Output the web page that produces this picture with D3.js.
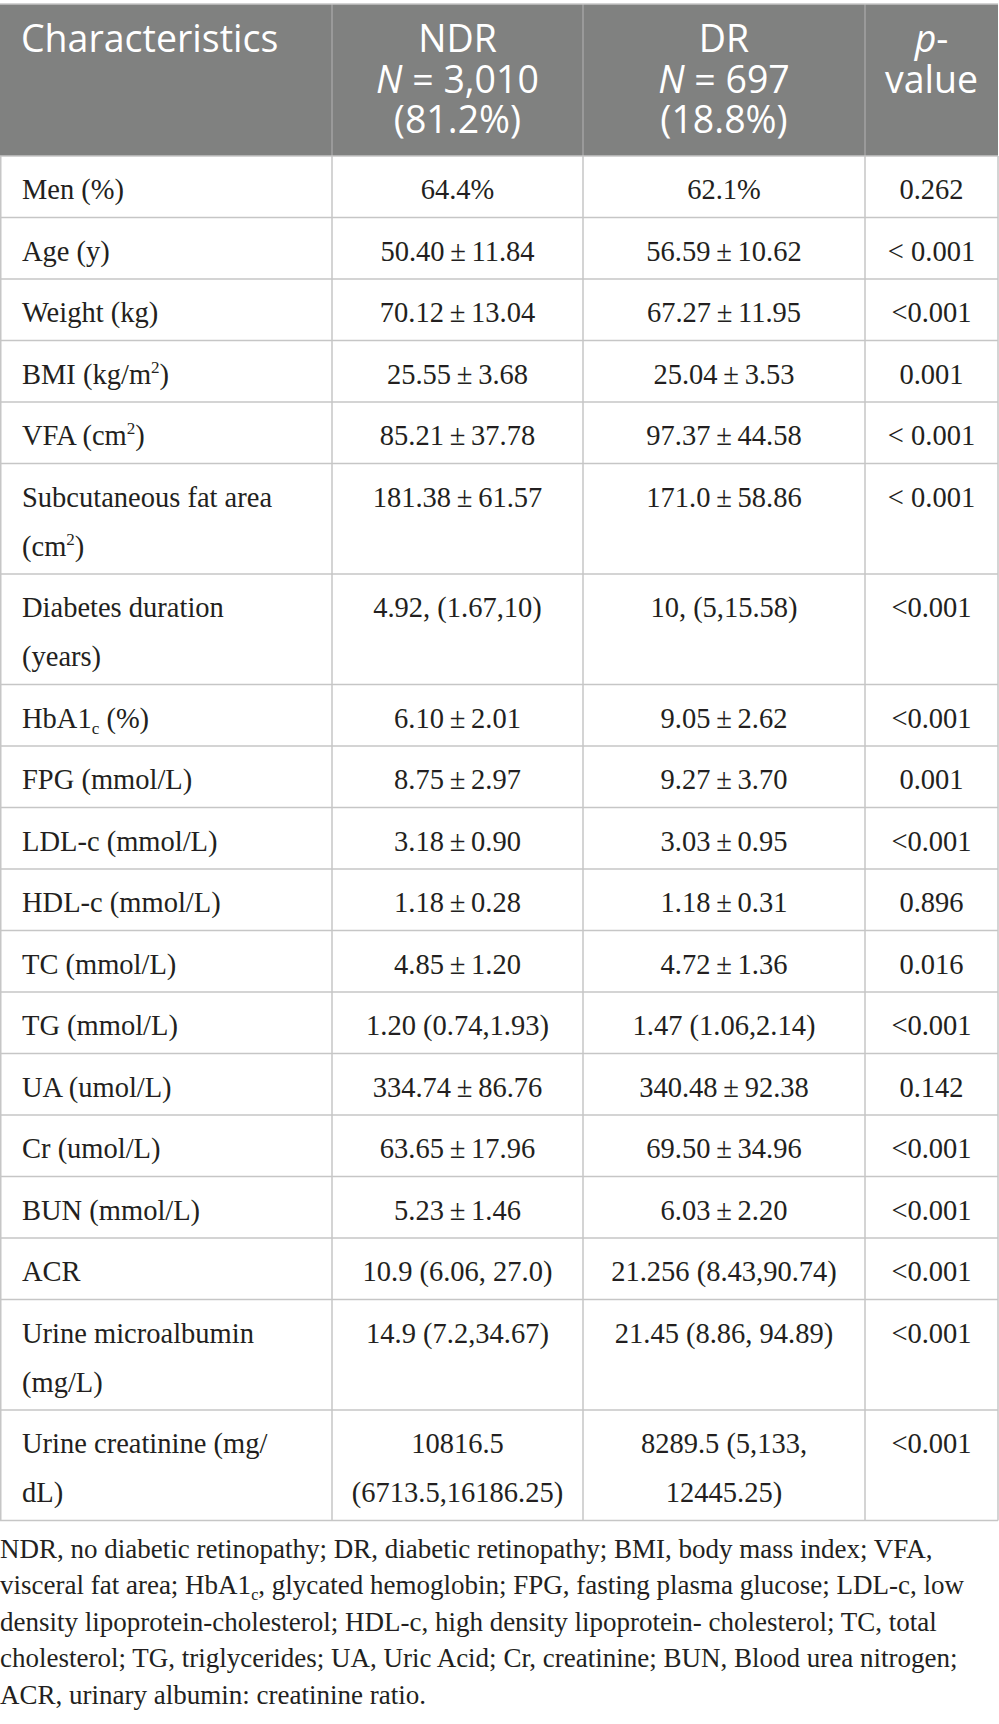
<!DOCTYPE html>
<html>
<head>
<meta charset="utf-8">
<script src="https://cdn.jsdelivr.net/npm/d3@7"></script>
<style>
  html, body { margin: 0; padding: 0; background: #fff; }
  svg { display: block; }
</style>
</head>
<body>
<div id="chart"></div>
<script>
// ---------- data ----------
const headerCharacteristics = ["Characteristics"];
const headerNDR = ["NDR", "*N* = 3,010", "(81.2%)"];
const headerDR = ["DR", "*N* = 697", "(18.8%)"];
const headerP = ["*p*-", "value"];

const characteristics = [
  "Men (%)", "Age (y)", "Weight (kg)", "BMI (kg/m^2)", "VFA (cm^2)",
  "Subcutaneous fat area\n(cm^2)", "Diabetes duration\n(years)", "HbA1_c (%)",
  "FPG (mmol/L)", "LDL-c (mmol/L)", "HDL-c (mmol/L)", "TC (mmol/L)",
  "TG (mmol/L)", "UA (umol/L)", "Cr (umol/L)", "BUN (mmol/L)", "ACR",
  "Urine microalbumin\n(mg/L)", "Urine creatinine (mg/\ndL)"
];
const ndrValues = [
  "64.4%", "50.40 ± 11.84", "70.12 ± 13.04", "25.55 ± 3.68", "85.21 ± 37.78",
  "181.38 ± 61.57", "4.92, (1.67,10)", "6.10 ± 2.01", "8.75 ± 2.97",
  "3.18 ± 0.90", "1.18 ± 0.28", "4.85 ± 1.20", "1.20 (0.74,1.93)",
  "334.74 ± 86.76", "63.65 ± 17.96", "5.23 ± 1.46", "10.9 (6.06, 27.0)",
  "14.9 (7.2,34.67)", "10816.5\n(6713.5,16186.25)"
];
const drValues = [
  "62.1%", "56.59 ± 10.62", "67.27 ± 11.95", "25.04 ± 3.53", "97.37 ± 44.58",
  "171.0 ± 58.86", "10, (5,15.58)", "9.05 ± 2.62", "9.27 ± 3.70",
  "3.03 ± 0.95", "1.18 ± 0.31", "4.72 ± 1.36", "1.47 (1.06,2.14)",
  "340.48 ± 92.38", "69.50 ± 34.96", "6.03 ± 2.20", "21.256 (8.43,90.74)",
  "21.45 (8.86, 94.89)", "8289.5 (5,133,\n12445.25)"
];
const pValues = [
  "0.262", "< 0.001", "<0.001", "0.001", "< 0.001", "< 0.001", "<0.001",
  "<0.001", "0.001", "<0.001", "0.896", "0.016", "<0.001", "0.142",
  "<0.001", "<0.001", "<0.001", "<0.001", "<0.001"
];
const footnoteLines = [
  "NDR, no diabetic retinopathy; DR, diabetic retinopathy; BMI, body mass index; VFA,",
  "visceral fat area; HbA1_c, glycated hemoglobin; FPG, fasting plasma glucose; LDL-c, low",
  "density lipoprotein-cholesterol; HDL-c, high density lipoprotein- cholesterol; TC, total",
  "cholesterol; TG, triglycerides; UA, Uric Acid; Cr, creatinine; BUN, Blood urea nitrogen;",
  "ACR, urinary albumin: creatinine ratio."
];

// ---------- layout ----------
const W = 999, H = 1724;
const colEdges = [0, 332, 583, 865, 998];
const headerTop = 4, headerBottom = 156;
const linePitch = 49, rowPad = 12.5;
const bodyFont = "'Liberation Serif', 'Times New Roman', serif";
const headFont = "'Open Sans', sans-serif";

const svg = d3.select("#chart").append("svg")
  .attr("width", W).attr("height", H);

const rows = characteristics.map((c, i) => ({
  cells: [c, ndrValues[i], drValues[i], pValues[i]]
}));
rows.forEach(r => {
  r.lines = d3.max(r.cells, c => c.split("\n").length);
  r.units = rowPad + linePitch * r.lines;
});
let acc = 0;
rows.forEach(r => { r.u0 = acc; acc += r.units; r.u1 = acc; });
const totalUnits = acc;

const y = d3.scaleLinear().domain([0, totalUnits]).range([headerBottom, headerBottom + totalUnits]);
const x = d3.scaleOrdinal().domain([0, 1, 2, 3]).range(colEdges.slice(0, 4));
const colW = i => colEdges[i + 1] - colEdges[i];
const tableBottom = y(totalUnits);

// rich text helper: ^x superscript, _x subscript, *..* italic
function addRich(sel, str, fs) {
  const re = /(\^.|_.|\*[^*]+\*)/g;
  const parts = str.split(re).filter(p => p !== "");
  let pendingDy = 0;
  parts.forEach(p => {
    let ts;
    if (p[0] === "^") {
      sel.append("tspan").attr("dy", pendingDy - fs * 0.38).attr("font-size", fs * 0.6).text(p.slice(1));
      pendingDy = fs * 0.38;
      return;
    } else if (p[0] === "_") {
      sel.append("tspan").attr("dy", pendingDy + fs * 0.22).attr("font-size", fs * 0.6).text(p.slice(1));
      pendingDy = -fs * 0.22;
      return;
    } else if (p[0] === "*") {
      ts = sel.append("tspan").attr("font-style", "italic").text(p.slice(1, -1));
    } else {
      ts = sel.append("tspan").text(p);
    }
    if (pendingDy) { ts.attr("dy", pendingDy); pendingDy = 0; }
  });
}

// one <text> per cell, one tspan per line
function cellText(lines, xPos, baselines, anchor, family, fs, fill) {
  const t = svg.append("text")
    .attr("text-anchor", anchor)
    .attr("font-family", family)
    .attr("font-size", fs)
    .attr("fill", fill);
  lines.forEach((ln, li) => {
    const lt = t.append("tspan").attr("x", xPos).attr("y", baselines[li]);
    addRich(lt, ln, fs);
  });
  return t;
}

// header background
svg.append("rect")
  .attr("x", colEdges[0]).attr("y", headerTop)
  .attr("width", colEdges[4] - colEdges[0]).attr("height", headerBottom - headerTop)
  .attr("fill", "#808180");

// header texts
const headers = [headerCharacteristics, headerNDR, headerDR, headerP];
const headFs = 37.5;
const headBase = [52, 93, 133];
headers.forEach((lines, ci) => {
  cellText(lines, ci === 0 ? x(0) + 21 : x(ci) + colW(ci) / 2, headBase,
    ci === 0 ? "start" : "middle", headFont, headFs, "#ffffff");
});

// header vertical separators
svg.selectAll("line.hsep").data([1, 2, 3]).enter().append("line")
  .attr("x1", d => x(d)).attr("x2", d => x(d))
  .attr("y1", headerTop).attr("y2", headerBottom)
  .attr("stroke", "#a3a3a3").attr("stroke-width", 1.5);

// body grid
const gridColor = "#c6c6c6";
svg.append("line").attr("x1", 0).attr("x2", colEdges[4]).attr("y1", headerTop).attr("y2", headerTop)
  .attr("stroke", gridColor).attr("stroke-width", 1.5);
svg.selectAll("line.hrow").data(rows).enter().append("line")
  .attr("x1", 0).attr("x2", colEdges[4])
  .attr("y1", d => y(d.u1)).attr("y2", d => y(d.u1))
  .attr("stroke", gridColor).attr("stroke-width", 1.5);
svg.append("line").attr("x1", 0).attr("x2", colEdges[4]).attr("y1", headerBottom).attr("y2", headerBottom)
  .attr("stroke", gridColor).attr("stroke-width", 1.5);
svg.selectAll("line.vcol").data([0, 1, 2, 3, 4]).enter().append("line")
  .attr("x1", d => colEdges[d] + (d === 0 ? 0.75 : 0)).attr("x2", d => colEdges[d] + (d === 0 ? 0.75 : 0))
  .attr("y1", headerBottom).attr("y2", tableBottom)
  .attr("stroke", gridColor).attr("stroke-width", 1.5);

// body text
const bodyFs = 28.5;
rows.forEach(r => {
  r.cells.forEach((cell, ci) => {
    const lines = cell.split("\n").map(s => s.replace(" ± ", "\u2009±\u2009"));
    const bases = lines.map((_, li) => y(r.u0) + 43 + li * linePitch);
    cellText(lines, ci === 0 ? x(0) + 22 : x(ci) + colW(ci) / 2, bases,
      ci === 0 ? "start" : "middle", bodyFont, bodyFs, "#231f20");
  });
});

// footnote
const footFs = 27;
footnoteLines.forEach((ln, i) => {
  cellText([ln], 0, [tableBottom + 37 + i * 36.5], "start", bodyFont, footFs, "#231f20");
});
</script>
</body>
</html>
